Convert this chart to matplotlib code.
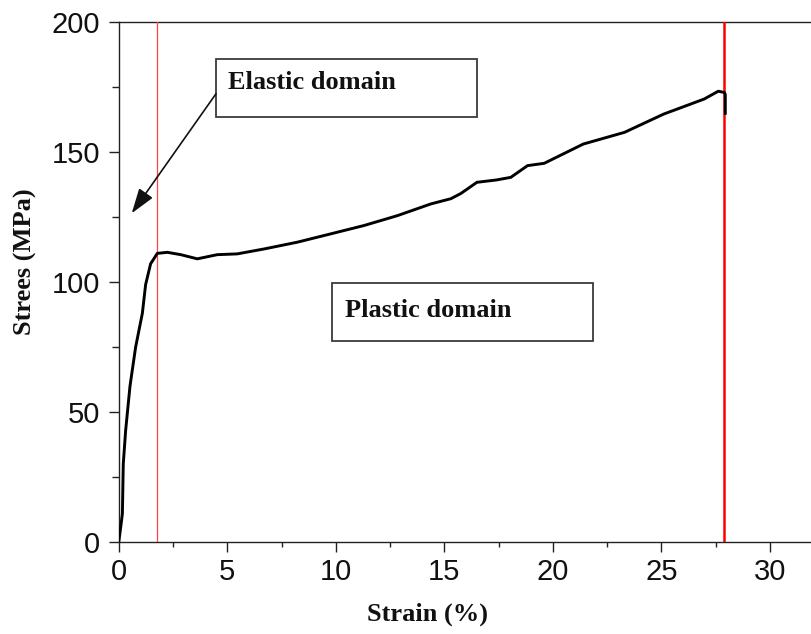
import matplotlib
matplotlib.use("Agg")
import matplotlib.pyplot as plt
from matplotlib.patches import Rectangle
from matplotlib.ticker import MultipleLocator

# ---- data ----
strain = [0, 0.08, 0.17, 0.21, 0.32, 0.52, 0.78, 1.09, 1.24, 1.47, 1.78, 2.24,
          2.86, 3.62, 4.54, 5.46, 6.7, 8.23, 9.77, 11.3, 12.84, 14.38, 15.3,
          15.76, 16.5, 17.4, 18.06, 18.83, 19.6, 21.4, 23.3, 25.1, 26.97,
          27.62, 27.9, 27.94, 27.94]
stress = [0, 5, 11, 30, 43, 60, 75, 88, 99, 107, 111, 111.4,
          110.5, 108.9, 110.5, 110.8, 112.7, 115.3, 118.5, 121.7, 125.5, 130, 132,
          134, 138.3, 139.2, 140.2, 144.7, 145.6, 153, 157.5, 164.5, 170.3,
          173.3, 172.8, 172, 164.8]

elastic_limit = 1.76
rupture_strain = 27.88
x_ticks = [0, 5, 10, 15, 20, 25, 30]
y_ticks = [0, 50, 100, 150, 200]
x_label = "Strain (%)"
y_label = "Strees (MPa)"
elastic_text = "Elastic domain"
plastic_text = "Plastic domain"

W, H = 812, 634
fig = plt.figure(figsize=(W / 100, H / 100), dpi=100)
left_px, px_per_unit = 118.7, 21.71
xmax = 33
ax = fig.add_axes([left_px / W, (H - 542.3) / H, xmax * px_per_unit / W, (542.3 - 21.7) / H])
ax.set_xlim(0, xmax)
ax.set_ylim(0, 200)

serif = ["Liberation Serif", "DejaVu Serif"]
sans = ["Liberation Sans", "DejaVu Sans"]

ax.plot(strain, stress, color="black", lw=2.1, solid_joinstyle="round", zorder=4)
ax.axvline(elastic_limit, color="#ff4444", lw=0.9, zorder=3)
ax.axvline(rupture_strain, color="#ff0000", lw=1.8, zorder=3)

ax.set_xticks(x_ticks)
ax.set_yticks(y_ticks)
ax.xaxis.set_minor_locator(MultipleLocator(2.5))
ax.yaxis.set_minor_locator(MultipleLocator(25))
ax.tick_params(which="major", direction="out", length=7.5, width=1.0, color="#222222",
               labelsize=21, top=False, right=False)
ax.tick_params(axis="x", which="major", pad=4)
ax.tick_params(axis="y", which="major", pad=6)
ax.tick_params(which="minor", direction="out", length=3.5, width=1.0, color="#222222",
               top=False, right=False)
ax.tick_params(axis="y", which="minor", length=5)
for lbl in ax.get_xticklabels() + ax.get_yticklabels():
    lbl.set_family(sans)
    lbl.set_color("#111111")
for s in ["left", "bottom", "top"]:
    ax.spines[s].set_linewidth(1.0)
    ax.spines[s].set_color("#222222")
ax.spines["right"].set_visible(False)

ax.set_xlabel(x_label, family=serif, fontweight="bold", fontsize=19, color="#111111")
ax.xaxis.set_label_coords(427.5 / W, (H - 603) / H, transform=fig.transFigure)
ax.set_ylabel(y_label, family=serif, fontweight="bold", fontsize=19, color="#111111")
ax.yaxis.set_label_coords(37 / W, (H - 262) / H, transform=fig.transFigure)

# annotation boxes
ax.add_patch(Rectangle((4.48, 163.5), 16.5 - 4.48, 185.6 - 163.5, facecolor="white",
                       edgecolor="#3a3a3a", lw=1.3, zorder=5))
ax.text(5.04, 176.8, elastic_text, family=serif, fontweight="bold", fontsize=19,
        va="center", ha="left", zorder=6, color="#111111")
ax.add_patch(Rectangle((9.82, 77.3), 21.85 - 9.82, 99.5 - 77.3, facecolor="white",
                       edgecolor="#3a3a3a", lw=1.3, zorder=5))
ax.text(10.42, 89.2, plastic_text, family=serif, fontweight="bold", fontsize=19,
        va="center", ha="left", zorder=6, color="#111111")

ax.annotate("", xy=(0.6, 126.4), xytext=(4.48, 172.3),
            arrowprops=dict(arrowstyle="-|>,head_length=0.9,head_width=0.3",
                            color="#111111", lw=1.2, shrinkA=0, shrinkB=0, mutation_scale=17),
            zorder=6)

fig.savefig("out.png", dpi=100)
